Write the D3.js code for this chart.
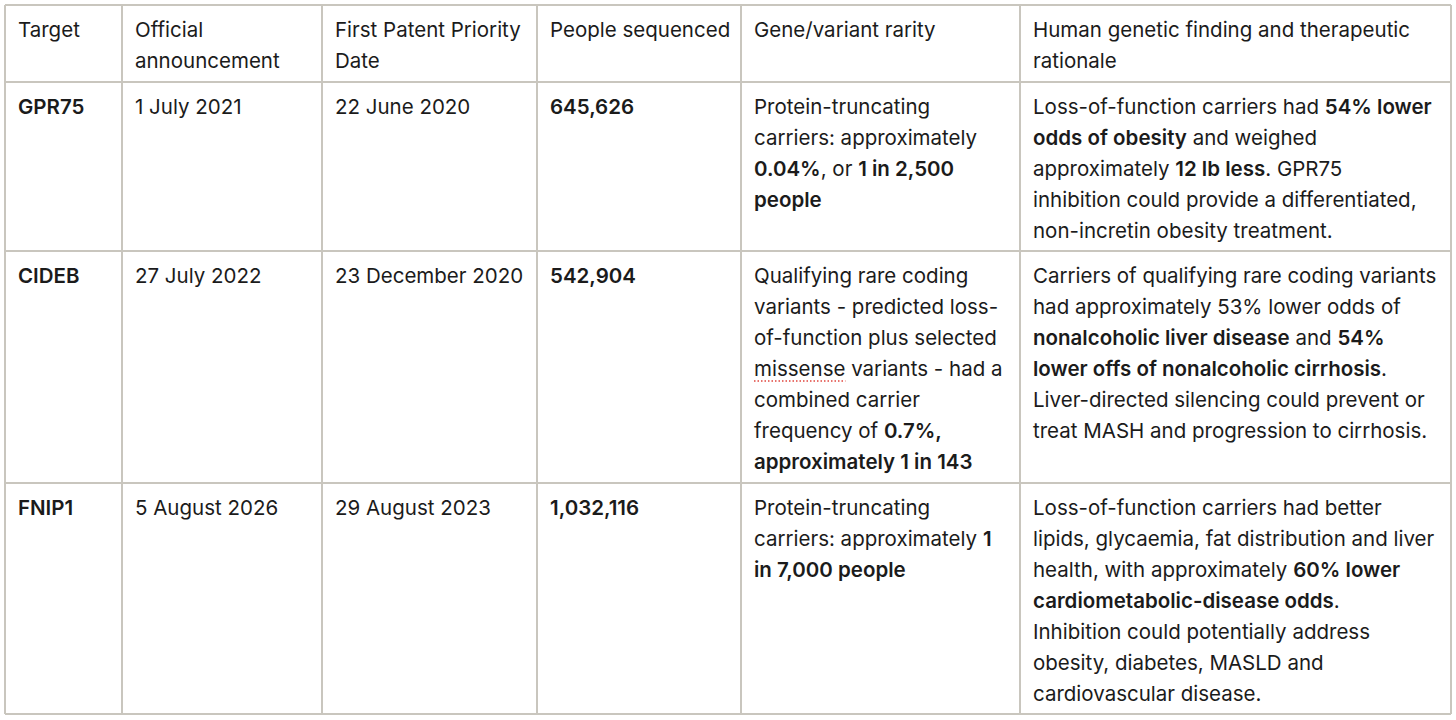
<!DOCTYPE html>
<html>
<head>
<meta charset="utf-8">
<script src="https://cdn.jsdelivr.net/npm/d3@7"></script>
<style>
  html, body { margin: 0; padding: 0; background: #fff; }
  svg { display: block; }
</style>
</head>
<body>
<svg id="chart"></svg>
<script>
// Table content. **text** = bold, ~text~ = spell-check squiggle
const headers = [
    ["Target"],
    ["Official", "announcement"],
    ["First Patent Priority", "Date"],
    ["People sequenced"],
    ["Gene/variant rarity"],
    ["Human genetic finding and therapeutic", "rationale"]
];
const targets = ["GPR75", "CIDEB", "FNIP1"];
const announcements = ["1 July 2021", "27 July 2022", "5 August 2026"];
const priorityDates = ["22 June 2020", "23 December 2020", "29 August 2023"];
const peopleSequenced = [645626, 542904, 1032116];
const rarity = [
    ["Protein-truncating", "carriers: approximately", "**0.04%**, or **1 in 2,500**", "**people**"],
    ["Qualifying rare coding", "variants - predicted loss-", "of-function plus selected",
     "~missense~ variants - had a", "combined carrier", "frequency of **0.7%,**",
     "**approximately 1 in 143**"],
    ["Protein-truncating", "carriers: approximately **1**", "**in 7,000 people**"]
];
const findings = [
    ["Loss-of-function carriers had **54% lower**", "**odds of obesity** and weighed",
     "approximately **12 lb less**. GPR75", "inhibition could provide a differentiated,",
     "non-incretin obesity treatment."],
    ["Carriers of qualifying rare coding variants", "had approximately 53% lower odds of",
     "**nonalcoholic liver disease** and **54%**", "**lower offs of nonalcoholic cirrhosis**.",
     "Liver-directed silencing could prevent or", "treat MASH and progression to cirrhosis."],
    ["Loss-of-function carriers had better", "lipids, glycaemia, fat distribution and liver",
     "health, with approximately **60% lower**", "**cardiometabolic-disease odds**.",
     "Inhibition could potentially address", "obesity, diabetes, MASLD and",
     "cardiovascular disease."]
];

// Layout
const width = 1456, height = 720;
const colWidths = [117, 200, 215, 204, 279, 431];
const rowHeights = [77, 169, 232, 231];
const x0 = 5, y0 = 5;
const padX = 13, firstBase = 32, lineH = 31;
const fontSize = 20.5;
const border = "#c9c6be";
const ink = "#1b1b1b";

const fmt = d3.format(",");

// Build rows of cells; each cell is an array of lines
const rows = [headers];
targets.forEach((t, i) => {
    rows.push([
        ["**" + t + "**"],
        [announcements[i]],
        [priorityDates[i]],
        ["**" + fmt(peopleSequenced[i]) + "**"],
        rarity[i],
        findings[i]
    ]);
});

const colX = [x0];
colWidths.forEach(w => colX.push(colX[colX.length - 1] + w));
const rowY = [y0];
rowHeights.forEach(h => rowY.push(rowY[rowY.length - 1] + h));

const svg = d3.select("#chart")
              .attr("width", width)
              .attr("height", height)
              .style("font-family", "Inter, Roboto, sans-serif")
              .style("font-size", fontSize + "px");

// Split a line into segments: bold / squiggle / plain
function segments(line) {
    const out = [];
    const re = /(\*\*[^*]+\*\*|~[^~]+~)/g;
    let last = 0, m;
    while ((m = re.exec(line)) !== null) {
        if (m.index > last) out.push({text: line.slice(last, m.index), bold: false});
        const s = m[0];
        if (s.startsWith("**")) out.push({text: s.slice(2, -2), bold: true});
        else out.push({text: s.slice(1, -1), bold: false, squiggle: true});
        last = m.index + s.length;
    }
    if (last < line.length) out.push({text: line.slice(last), bold: false});
    return out;
}

const cells = [];
rows.forEach((r, ri) => r.forEach((lines, ci) => cells.push({ri, ci, lines})));

const cellG = svg.append("g")
                 .selectAll("g")
                 .data(cells)
                 .join("g")
                 .attr("transform", d => `translate(${colX[d.ci] + padX},${rowY[d.ri] + firstBase})`);

const text = cellG.selectAll("text")
                  .data(d => d.lines.map((l, li) => ({li, segs: segments(l)})))
                  .join("text")
                  .attr("y", d => d.li * lineH)
                  .attr("fill", ink);

text.selectAll("tspan")
    .data(d => d.segs)
    .join("tspan")
    .attr("font-weight", d => d.bold ? 600 : 400)
    .text(d => d.text);

// Red dotted underline under flagged words
text.each(function(d) {
    const t = this;
    let offset = 0;
    d.segs.forEach(s => {
        if (s.squiggle) {
            const start = offset ? t.getSubStringLength(0, offset) : 0;
            const w = t.getSubStringLength(offset, s.text.length);
            d3.select(t.parentNode).append("line")
              .attr("x1", start).attr("x2", start + w)
              .attr("y1", d.li * lineH + 5).attr("y2", d.li * lineH + 5)
              .attr("stroke", "#e0443c")
              .attr("stroke-width", 1.5)
              .attr("stroke-dasharray", "1.5,2");
        }
        offset += s.text.length;
    });
});

// Grid lines
const grid = svg.append("g")
                .attr("stroke", border)
                .attr("stroke-width", 1.5)
                .attr("shape-rendering", "crispEdges");

grid.selectAll("line.h")
    .data(rowY)
    .join("line")
    .attr("class", "h")
    .attr("x1", x0).attr("x2", colX[colX.length - 1])
    .attr("y1", d => d).attr("y2", d => d);

grid.selectAll("line.v")
    .data(colX)
    .join("line")
    .attr("class", "v")
    .attr("y1", y0).attr("y2", rowY[rowY.length - 1])
    .attr("x1", d => d).attr("x2", d => d);
</script>
</body>
</html>
